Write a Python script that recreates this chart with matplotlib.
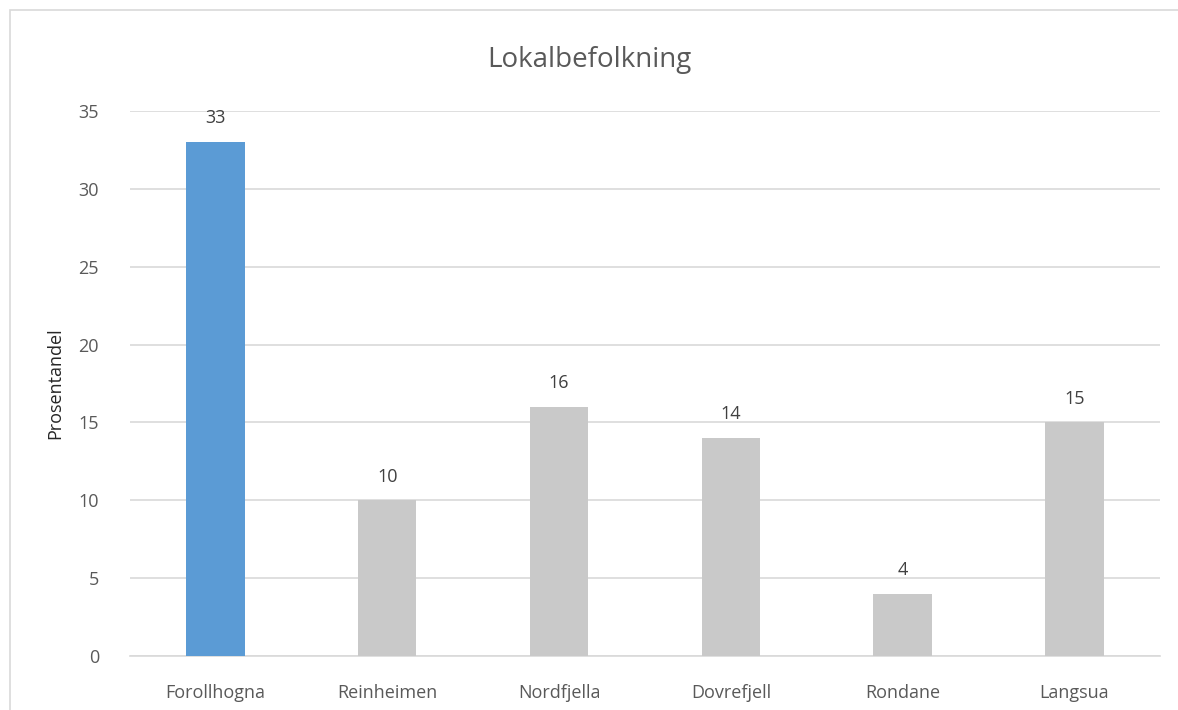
import matplotlib.pyplot as plt
from matplotlib.patches import Rectangle

# data
omrader = ['Forollhogna', 'Reinheimen', 'Nordfjella', 'Dovrefjell', 'Rondane', 'Langsua']
andel = [33, 10, 16, 14, 4, 15]
farger = ['#5B9BD5', '#C9C9C9', '#C9C9C9', '#C9C9C9', '#C9C9C9', '#C9C9C9']

plt.rcParams['font.family'] = ['Open Sans', 'DejaVu Sans']
tekst = '#595959'

fig = plt.figure(figsize=(11.78, 7.10), dpi=100)
ax = fig.add_axes([0.110, 0.076, 0.875, 0.7677])

x = range(len(omrader))
bars = ax.bar(x, andel, width=0.34, color=farger, zorder=3)
for b, v in zip(bars, andel):
    ax.text(b.get_x() + b.get_width() / 2, v + 0.95, str(v), ha='center', va='bottom',
            fontsize=13, color='#404040')

ax.set_xlim(-0.5, len(omrader) - 0.5)
ax.set_ylim(0, 35)
ax.set_yticks(range(0, 36, 5))
ax.set_xticks(list(x))
ax.set_xticklabels(omrader)
ax.tick_params(length=0, labelsize=13, colors=tekst)
ax.tick_params(axis='x', pad=20)
ax.tick_params(axis='y', pad=22)
ax.grid(axis='y', color='#D9D9D9', linewidth=1.2, zorder=0)
for s in ['top', 'right', 'left']:
    ax.spines[s].set_visible(False)
ax.spines['bottom'].set_color('#D9D9D9')
ax.spines['bottom'].set_linewidth(1.2)

ax.set_ylabel('Prosentandel', fontsize=13, color='#262626', labelpad=10)
fig.text(0.5, 0.915, 'Lokalbefolkning', ha='center', va='center', fontsize=20, color=tekst)

# ramme rundt diagrammet
fig.patches.append(Rectangle((10 / 1178, -0.05), 1.2, 1 - 10 / 710 + 0.05,
                             transform=fig.transFigure, fill=False,
                             edgecolor='#D9D9D9', linewidth=1.2))

fig.savefig('out.png', dpi=100)
